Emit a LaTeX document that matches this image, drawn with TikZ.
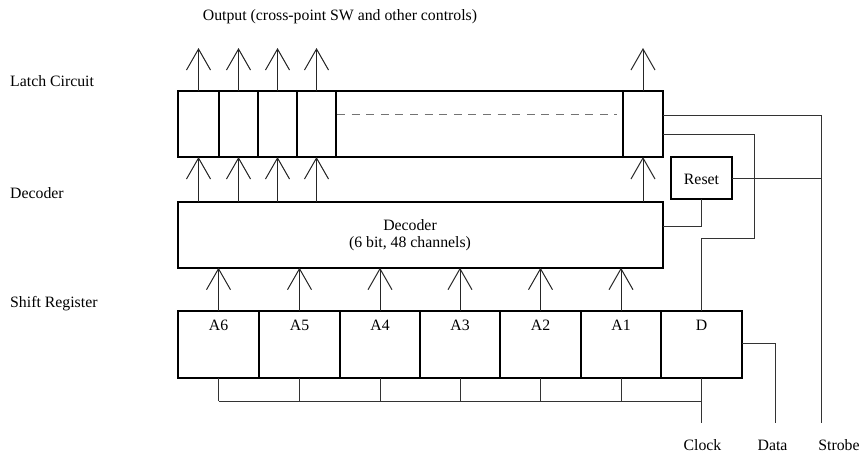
\documentclass[tikz,border=0pt]{standalone}
\usepackage{fontspec}
\setmainfont{Liberation Serif}
\usetikzlibrary{arrows.meta,calc}
\begin{document}
\begin{tikzpicture}[x=1pt,y=-1pt,
  box/.style={draw, line width=2pt, inner sep=0pt, outer sep=0pt},
  wire/.style={draw, line width=1pt, black!80},
  arr/.style={line width=1pt, black!85, -{Straight Barb[length=21pt,width=24pt,line width=1pt]}},
  lab/.style={anchor=base, inner sep=0pt, font=\fontsize{15.8}{19}\selectfont},
  labl/.style={lab, anchor=base west}
]
\useasboundingbox (0,0) rectangle (864,455);

% ---------- latch circuit ----------
\node[box, minimum width=41pt, minimum height=66.3pt] (L1) at (198.5,123.85) {};
\node[box, minimum width=39pt, minimum height=66.3pt] (L2) at (238.5,123.85) {};
\node[box, minimum width=39pt, minimum height=66.3pt] (L3) at (277.5,123.85) {};
\node[box, minimum width=39pt, minimum height=66.3pt] (L4) at (316.5,123.85) {};
\node[box, minimum width=287pt, minimum height=66.3pt] (Lm) at (479.5,123.85) {};
\node[box, minimum width=40pt, minimum height=66.3pt] (L48) at (643,123.85) {};
\draw[black!55, line width=0.9pt, dash pattern=on 8pt off 6.6pt] (337,114) -- (617,114);

% ---------- decoder ----------
\node[box, minimum width=485pt, minimum height=66pt] (dec) at (420.5,234.7) {};
\node[lab] (decA) at (410,230.7) {Decoder};
\node[lab] (decB) at (410,247.6) {(6 bit, 48 channels)};

% ---------- reset ----------
\node[box, minimum width=61pt, minimum height=42pt] (reset) at (701.5,178) {};
\node[lab] (resetT) at (701.5,184) {Reset};

% ---------- shift register ----------
\node[box, minimum width=81pt, minimum height=67pt] (sA6) at (218.5,344.5) {};
\node[box, minimum width=81pt, minimum height=67pt] (sA5) at (299.5,344.5) {};
\node[box, minimum width=80pt, minimum height=67pt] (sA4) at (380,344.5) {};
\node[box, minimum width=80pt, minimum height=67pt] (sA3) at (460,344.5) {};
\node[box, minimum width=81pt, minimum height=67pt] (sA2) at (540.5,344.5) {};
\node[box, minimum width=80pt, minimum height=67pt] (sA1) at (621,344.5) {};
\node[box, minimum width=81pt, minimum height=67pt] (sD) at (701.5,344.5) {};
\foreach \c/\t in {sA6/A6,sA5/A5,sA4/A4,sA3/A3,sA2/A2,sA1/A1,sD/D}
  \node[lab] (\c T) at ($(\c.north)+(0,19.7)$) {\t};

% ---------- output arrows and latch inputs ----------
\foreach \c in {L1,L2,L3,L4,L48}{
  \coordinate (\c o) at ($(\c.north)+(0,-42.7)$);
  \draw[arr] (\c.north) -- (\c o);
  \draw[arr] (\c.south |- dec.north) -- (\c.south);
}
% ---------- decoder inputs ----------
\foreach \c in {sA6,sA5,sA4,sA3,sA2,sA1}
  \draw[arr] (\c.north) -- (\c.north |- dec.south);

% ---------- clock bus ----------
\coordinate (ck) at (701.5,423);
\coordinate (dt) at (775,423);
\coordinate (st) at (821,423);
\foreach \c in {sA6,sA5,sA4,sA3,sA2,sA1,sD}
  \draw[wire] (\c.south) -- (\c.south |- 0,401);
\draw[wire] (sA6.south |- 0,401) -- (sD.south |- 0,401);
\draw[wire] (sD.south |- 0,401) -- (ck);

% ---------- data ----------
\draw[wire] (sD.east |- 0,343) -| (dt);

% ---------- strobe ----------
\draw[wire] (L48.east |- 0,115) -| (st);
\draw[wire] (reset.east) -- (reset.east -| st);

% ---------- reset to decoder ----------
\draw[wire] (reset.south) |- (dec.east |- 0,226);

% ---------- latch to D ----------
\draw[wire] (L48.east |- 0,134) -| (754,238) -| (sD.north);

% ---------- texts ----------
\node[lab] (out) at (340,20) {Output (cross-point SW and other controls)};
\node[labl] (tLatch) at (10,86.6) {Latch Circuit};
\node[labl] (tDec) at (10,198) {Decoder};
\node[labl] (tShift) at (10,307) {Shift Register};
\node[lab] (tClock) at (702.5,450.7) {Clock};
\node[lab] (tData) at (772.5,450.7) {Data};
\node[lab] (tStrobe) at (839,450.7) {Strobe};
\end{tikzpicture}
\end{document}
